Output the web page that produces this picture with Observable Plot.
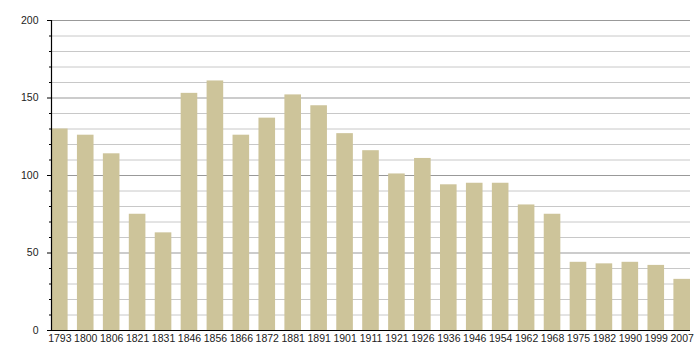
<!DOCTYPE html>
<html>
<head>
<meta charset="utf-8">
<script src="https://cdn.jsdelivr.net/npm/d3@7"></script>
<script src="https://cdn.jsdelivr.net/npm/@observablehq/plot@0.6"></script>
<style>
  html, body { margin: 0; padding: 0; background: #fff; }
  svg { font-family: "Liberation Sans", Arial, sans-serif; }
</style>
</head>
<body>
<div id="chart"></div>
<script>
const years = ["1793","1800","1806","1821","1831","1846","1856","1866","1872","1881","1891","1901","1911","1921","1926","1936","1946","1954","1962","1968","1975","1982","1990","1999","2007"];
const population = [130,126,114,75,63,153,161,126,137,152,145,127,116,101,111,94,95,95,81,75,44,43,44,42,33];
const majorTicks = [0,50,100,150,200];
const minorTicks = [10,20,30,40,60,70,80,90,110,120,130,140,160,170,180,190];

const data = years.map((y, i) => ({year: y, value: population[i]}));

const chart = Plot.plot({
  width: 700,
  height: 360,
  marginLeft: 51,
  marginRight: 10,
  marginTop: 20,
  marginBottom: 30,
  style: {fontFamily: "Liberation Sans, Arial, sans-serif", fontSize: "10.5px", color: "#222", background: "#fff"},
  x: {type: "band", domain: years, paddingInner: 0.36, paddingOuter: 0, round: false},
  y: {domain: [0, 200]},
  marks: [
    Plot.ruleY(minorTicks, {stroke: "#c8c8c8", strokeWidth: 1}),
    Plot.ruleY(majorTicks.filter(d => d > 0), {stroke: "#999", strokeWidth: 1}),
    Plot.barY(data, {x: "year", y: "value", fill: "#cdc49a"}),
    Plot.ruleY([0], {stroke: "#000", strokeWidth: 1.2}),
    Plot.frame({anchor: "left", stroke: "#000", strokeWidth: 1.2}),
    Plot.axisY({ticks: minorTicks, tickSize: 2, tickFormat: () => "", stroke: "#000", label: null}),
    Plot.axisY({ticks: majorTicks, tickSize: 4, tickPadding: 9, stroke: "#000", fill: "#222", label: null, fontSize: 10.5}),
    Plot.axisX({tickSize: 0, tickPadding: 4, label: null, fill: "#222", fontSize: 10.5})
  ]
});
document.getElementById("chart").appendChild(chart);
</script>
</body>
</html>
